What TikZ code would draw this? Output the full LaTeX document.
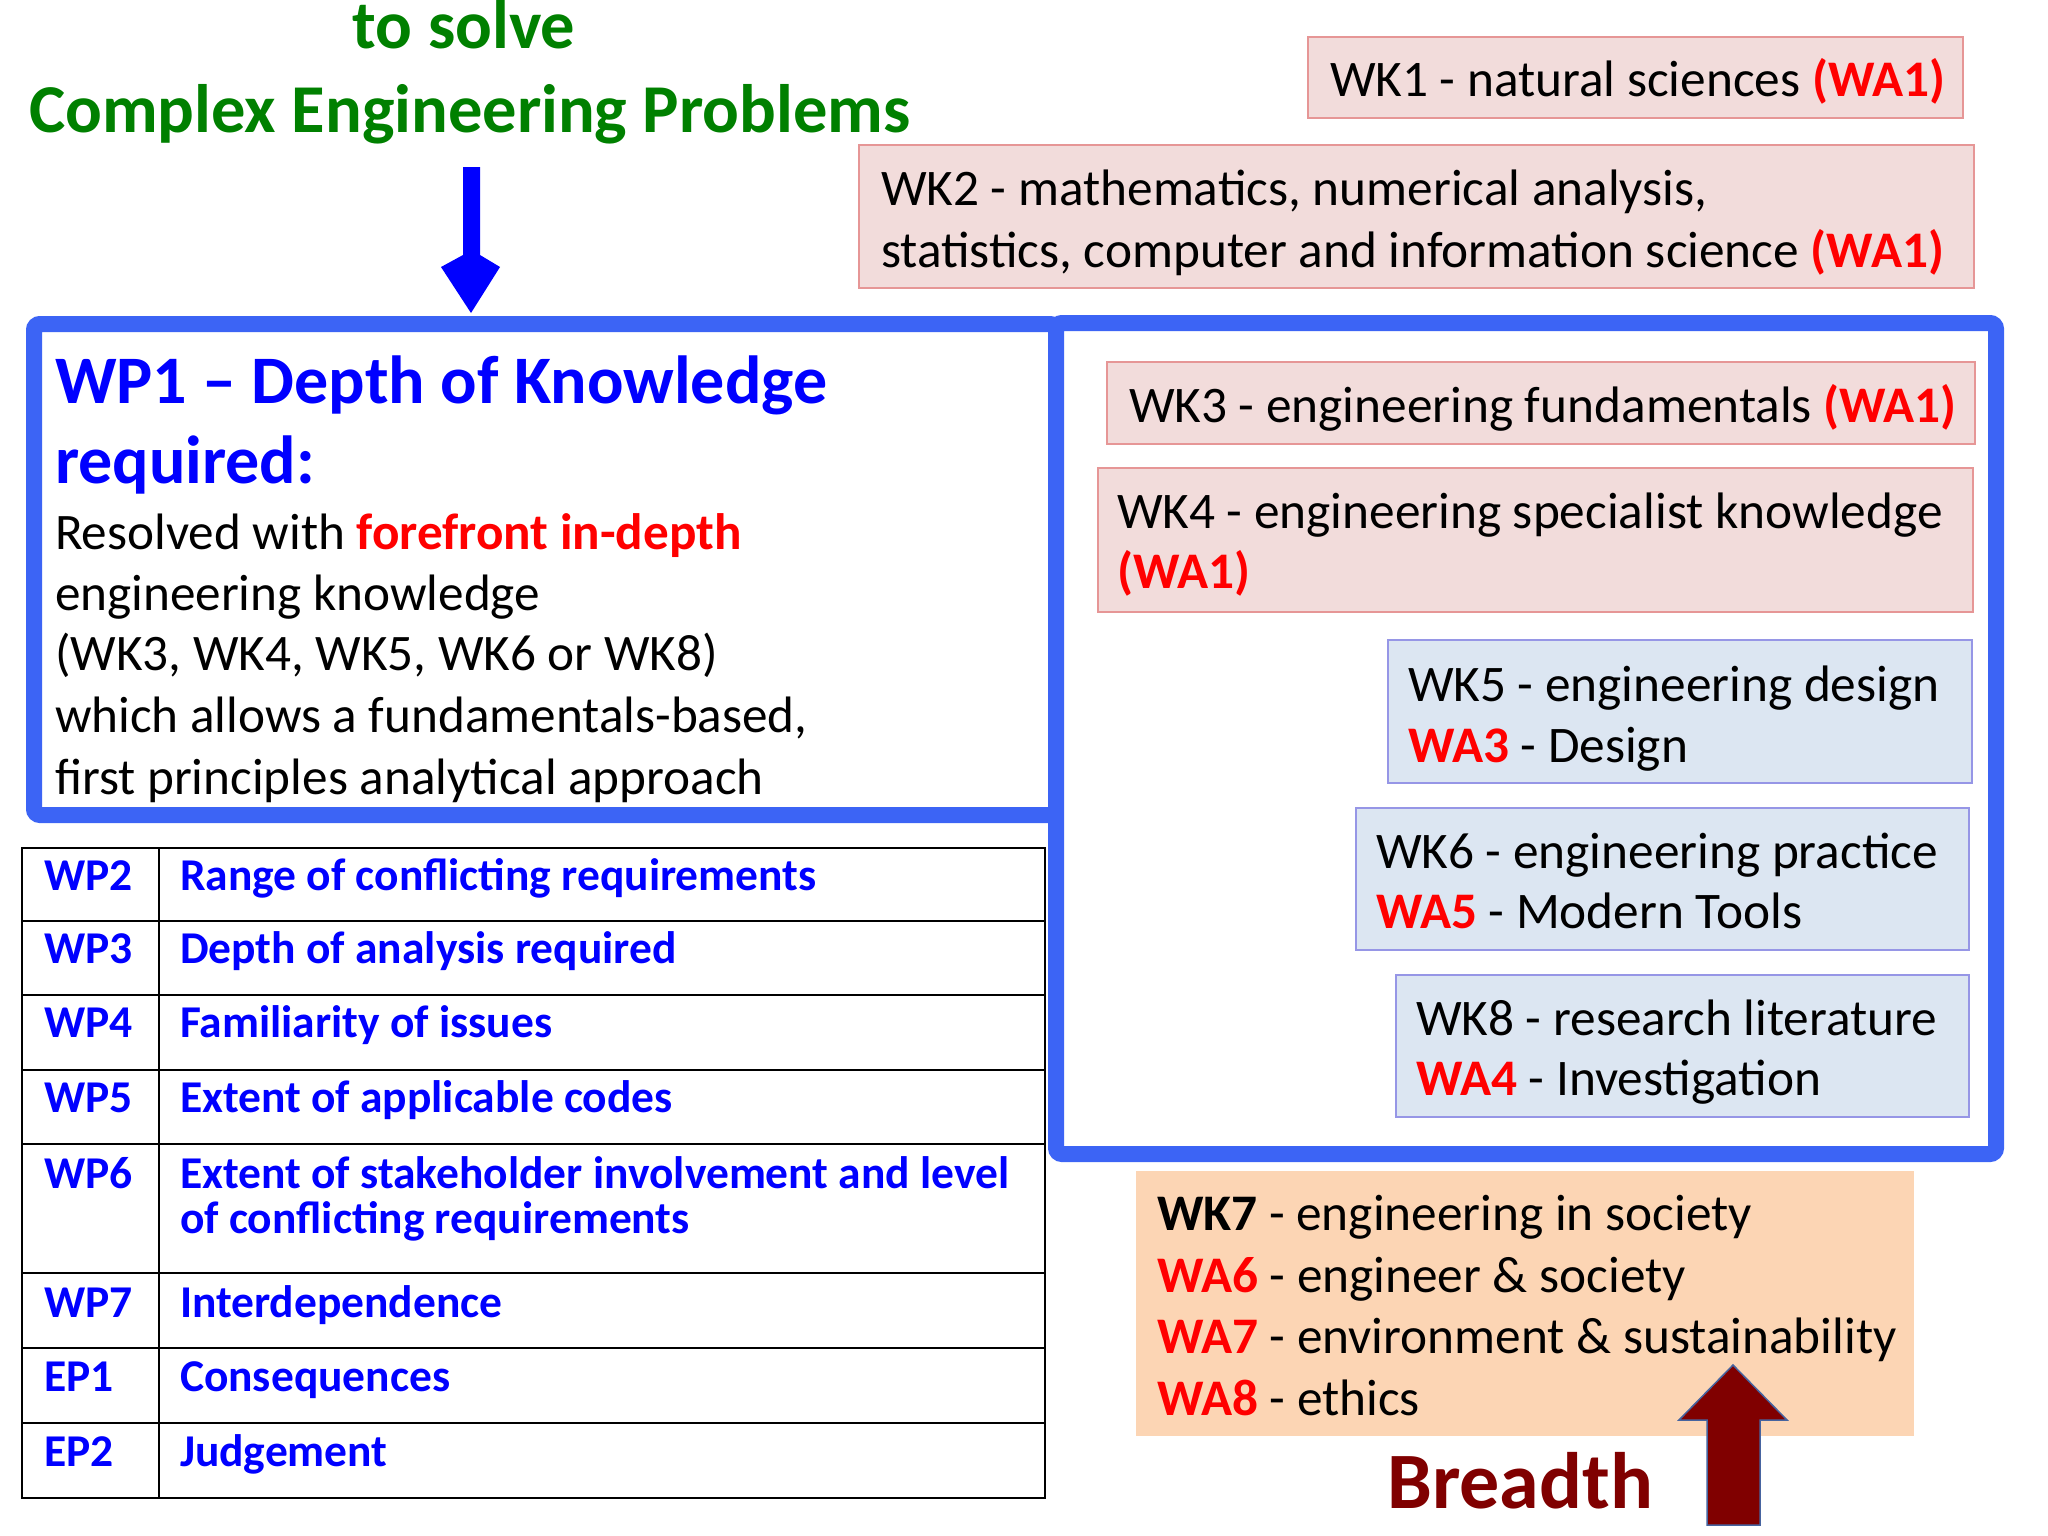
\documentclass[tikz,border=0pt]{standalone}
\usepackage{fontspec}
\setmainfont{Carlito}
\usetikzlibrary{shadows}
\definecolor{ttlgreen}{RGB}{0,128,0}
\definecolor{pureblue}{RGB}{0,0,255}
\definecolor{purered}{RGB}{255,0,0}
\definecolor{darkred}{RGB}{128,0,0}
\definecolor{frameblue}{RGB}{60,100,245}
\definecolor{pinkfill}{RGB}{242,220,219}
\definecolor{pinkline}{RGB}{230,150,150}
\definecolor{bluefill}{RGB}{220,230,242}
\definecolor{blueline}{RGB}{150,150,230}
\definecolor{peach}{RGB}{252,213,180}
\definecolor{arrline}{RGB}{70,100,160}
\newcommand{\wa}[1]{\textcolor{purered}{\bfseries #1}}
\begin{document}
\begin{tikzpicture}[x=1pt,y=-1pt,
  every node/.style={inner sep=0pt, outer sep=0pt},
  txt/.style={anchor=base west, font=\fontsize{51.3}{60}\selectfont},
  bodytxt/.style={anchor=base west, font=\fontsize{51.2}{60}\selectfont},
  headtxt/.style={anchor=base west, text=pureblue, font=\fontsize{68}{80}\selectfont\bfseries},
  tabtxt/.style={anchor=base west, text=pureblue, font=\fontsize{45.5}{50}\selectfont\bfseries},
  ttltxt/.style={anchor=base, text=ttlgreen, font=\fontsize{68.5}{75}\selectfont\bfseries},
  pinkbox/.style={draw=pinkline, fill=pinkfill, line width=1.5pt},
  bluebox/.style={draw=blueline, fill=bluefill, line width=1.5pt},
  frame/.style={draw=frameblue, fill=white, line width=16pt, rounded corners=6pt},
  tabline/.style={draw=black, line width=2.5pt}]
\useasboundingbox (0,0) rectangle (2048,1536);

% titles
\node[ttltxt] (t1) at (464,49) {to solve};
\node[ttltxt] (t2) at (470,132) {Complex Engineering Problems};

% blue down arrow
\coordinate (da1) at (463,167);
\fill[pureblue] (da1) -- (480,167) -- (480,255) -- (500,267) -- (471,313) -- (441,267) -- (463,255) -- cycle;

% WK1, WK2
\path[pinkbox] (1308,37) rectangle (1963,118);
\node[txt] (wk1) at (1330,97) {WK1 - natural sciences \wa{(WA1)}};
\path[pinkbox] (859,145) rectangle (1974,288);
\node[txt] (wk2a) at (881,205) {WK2 - mathematics, numerical analysis,};
\node[txt] (wk2b) at (881,267) {statistics, computer and information science \wa{(WA1)}};

% frames
\path[frame, drop shadow={opacity=0.15, shadow xshift=4pt, shadow yshift=-5pt}] (34,324) rectangle (1056,815);
\path[frame, drop shadow={opacity=0.18, shadow xshift=4pt, shadow yshift=-5pt}] (1056,323) rectangle (1996,1154);

% WP1 text
\node[headtxt] (wp1a) at (55,403) {WP1 – Depth of Knowledge};
\node[headtxt] (wp1b) at (55,483) {required:};
\node[bodytxt] (b1) at (55,549) {Resolved with \wa{forefront in-depth}};
\node[bodytxt] (b2) at (55,610) {engineering knowledge};
\node[bodytxt] (b3) at (55,670) {(WK3, WK4, WK5, WK6 or WK8)};
\node[bodytxt] (b4) at (55,732) {which allows a fundamentals-based,};
\node[bodytxt] (b5) at (55,794) {first principles analytical approach};

% WK3..WK8
\path[pinkbox] (1107,362) rectangle (1975,444);
\node[txt] (wk3) at (1129,422) {WK3 - engineering fundamentals \wa{(WA1)}};
\path[pinkbox] (1098,468) rectangle (1973,612);
\node[txt] (wk4a) at (1117,528) {WK4 - engineering specialist knowledge};
\node[txt] (wk4b) at (1117,588) {\wa{(WA1)}};
\path[bluebox] (1388,640) rectangle (1972,783);
\node[txt] (wk5a) at (1408,701) {WK5 - engineering design};
\node[txt] (wk5b) at (1408,762) {\wa{WA3} - Design};
\path[bluebox] (1356,808) rectangle (1969,950);
\node[txt] (wk6a) at (1376,868) {WK6 - engineering practice};
\node[txt] (wk6b) at (1376,928) {\wa{WA5} - Modern Tools};
\path[bluebox] (1396,975) rectangle (1969,1117);
\node[txt] (wk8a) at (1416,1035) {WK8 - research literature};
\node[txt] (wk8b) at (1416,1095) {\wa{WA4} - Investigation};

% WK7 peach
\fill[peach] (1136,1171) rectangle (1914,1436);
\node[txt] (wk7a) at (1157,1230) {\textbf{WK7} - engineering in society};
\node[txt] (wk7b) at (1157,1292) {\wa{WA6} - engineer \& society};
\node[txt] (wk7c) at (1157,1353) {\wa{WA7} - environment \& sustainability};
\node[txt] (wk7d) at (1157,1415) {\wa{WA8} - ethics};

% Breadth
\node[anchor=base, text=darkred, font=\fontsize{80}{90}\selectfont\bfseries] (br) at (1520,1508) {Breadth};
\filldraw[fill=darkred, draw=arrline, line width=1.5pt, line join=miter]
  (1707,1525) -- (1707,1420) -- (1679,1420) -- (1733,1365) -- (1787,1420) -- (1760,1420) -- (1760,1525) -- cycle;

% table
\draw[tabline] (22,848) rectangle (1045,1498);
\draw[tabline] (159,848) -- (159,1498);
\foreach \yy in {921,995,1070,1144,1273,1348,1423}
  \draw[tabline] (22,\yy) -- (1045,\yy);
\node[tabtxt] (r1a) at (44,890) {WP2};
\node[tabtxt] (r1b) at (180,890) {Range of conflicting requirements};
\node[tabtxt] (r2a) at (44,963) {WP3};
\node[tabtxt] (r2b) at (180,963) {Depth of analysis required};
\node[tabtxt] (r3a) at (44,1037) {WP4};
\node[tabtxt] (r3b) at (180,1037) {Familiarity of issues};
\node[tabtxt] (r4a) at (44,1112) {WP5};
\node[tabtxt] (r4b) at (180,1112) {Extent of applicable codes};
\node[tabtxt] (r5a) at (44,1188) {WP6};
\node[tabtxt] (r5b) at (180,1188) {Extent of stakeholder involvement and level};
\node[tabtxt] (r5c) at (180,1233) {of conflicting requirements};
\node[tabtxt] (r6a) at (44,1317) {WP7};
\node[tabtxt] (r6b) at (180,1317) {Interdependence};
\node[tabtxt] (r7a) at (44,1391) {EP1};
\node[tabtxt] (r7b) at (180,1391) {Consequences};
\node[tabtxt] (r8a) at (44,1466) {EP2};
\node[tabtxt] (r8b) at (180,1466) {Judgement};
\end{tikzpicture}
\end{document}
